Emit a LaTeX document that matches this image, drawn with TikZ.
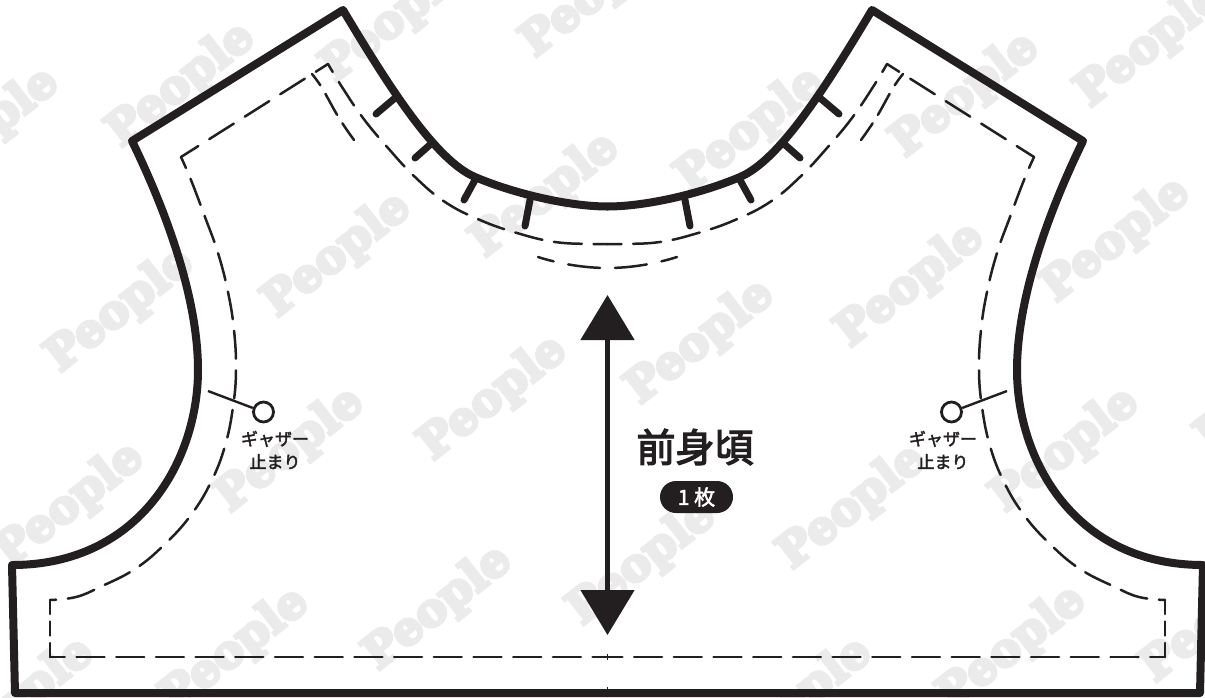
\documentclass[tikz,border=0pt]{standalone}
\usepackage{fontspec}
\newfontfamily\cjkm[FakeBold=2.2]{Noto Sans CJK JP}
\newfontfamily\cjkb[FakeBold=3.2]{Noto Sans CJK JP}
\newfontfamily\markfont[FakeBold=7]{DejaVu Serif Bold}
\usetikzlibrary{arrows.meta}
\definecolor{ink}{HTML}{231F20}
\definecolor{wmark}{HTML}{EBEBEB}
\tikzset{
    cutline/.style={ink,line width=8pt,line join=round,line cap=round},
    seamline/.style={ink,line width=2.5pt,line cap=round},
    notch/.style={ink,line width=7pt,line cap=round},
    stoplabel/.style={ink,font=\cjkm\fontsize{17}{23}\selectfont,align=center,inner sep=0pt},
    stopring/.style={circle,draw=ink,line width=2.8pt,fill=white,minimum size=20pt,inner sep=0pt},
    watermark/.style={wmark,font=\markfont\fontsize{46}{46}\selectfont,rotate=38,inner sep=0pt}
}
\begin{document}
\begin{tikzpicture}[x=1pt,y=-1pt]
    \useasboundingbox (0,0) rectangle (1205,697);
    \clip (0,0) rectangle (1205,697);
    \fill[white] (0,0) rectangle (1205,697);
    \foreach \wx/\wy in {-15/130,181/85,395/20,595/-5,750/130,965/95,1150/45,
        120/310,337/255,545/195,700/342,910/285,1116/240,
        70/505,290/450,493/398,852/507,1065/450,1270/390,
        20/700,235/650,438/608,642/563,798/700,1012/648,1215/620}
        \node[watermark] at (\wx,\wy) {People};
    \foreach \ox/\sx in {0/1,1215/-1}{
        \begin{scope}[shift={(\ox,0)},xscale=\sx]
            \draw[cutline] (607.5,206.5) .. controls (570,206.5) and (515,194) .. (475,177)
                .. controls (435,160) and (388,85) .. (343,10)
                -- (132,141) .. controls (168,215) and (198,300) .. (198,370)
                .. controls (198,460) and (140,565) .. (12,565)
                -- (15,693) -- (607.5,693);
            \foreach \ax/\ay/\bx/\by in {395/98/376/114,432/143/415/158,475/180/464/200,530/200/525/226}
                \draw[notch] (\ax,\ay) -- (\bx,\by);
            \draw[seamline,dash pattern=on 28pt off 11.7pt,dash phase=14pt] plot[smooth,tension=.7] coordinates {(607.5,244) (593,244) (555,242) (517,233) (480,220) (445,202) (415,177) (388,148) (363,118) (342,87) (328,64)};
            \draw[seamline,dash pattern=on 29pt off 13pt,dash phase=14.5pt] (328,64) -- (181,157);
            \draw[seamline,dash pattern=on 28pt off 11.7pt,dash phase=16pt] plot[smooth,tension=.7] coordinates {(181,157) (191,180) (205,217) (218,253) (228,292) (234,330) (236,370) (233,407) (225,446) (211,482) (191,515) (165,544) (135,569) (100,587) (76,597) (50,600)};
            \draw[seamline,dash pattern=on 14pt off 7.5pt] (50,600) -- (50,657);
            \draw[seamline,dash pattern=on 28pt off 11.7pt,dash phase=13.2pt] (50,657) -- (607.5,657);
            \draw[seamline,dash pattern=on 24pt off 10pt,dash phase=10pt] plot[smooth,tension=.7] coordinates {(312,74) (322,88) (339,118) (354,140)};
            \draw[seamline,dash pattern=on 32pt off 15pt,dash phase=39.5pt] (607.5,268) .. controls (585,268) and (560,264) .. (538,257);
            \node[stopring] (stopring) at (263.5,412) {};
            \coordinate (stoptail) at (208,391);
            \draw[ink,line width=2.4pt] (stoptail) -- (stopring);
        \end{scope}
    }
    \draw[ink,line width=.8pt] (607.5,654) -- (607.5,660) (607.5,687) -- (607.5,692);
    \coordinate (arrowtop) at (607.5,295);
    \coordinate (arrowbot) at (607.5,635);
    \draw[ink,line width=5pt,{Triangle[length=45pt,width=53pt]}-{Triangle[length=45pt,width=53pt]}] (arrowtop) -- (arrowbot);
    \node[ink,font=\cjkb\fontsize{39}{39}\selectfont,inner sep=0pt] (title) at (695,447) {前身頃};
    \node[fill=ink,text=white,rounded corners=16pt,minimum width=73pt,minimum height=32pt,inner sep=0pt,font=\cjkm\fontsize{21}{21}\selectfont] (count) at (696.5,497) {1 枚};
    \node[stoplabel] (stoptextl) at (275,450) {ギャザー\\止まり};
    \node[stoplabel] (stoptextr) at (943,450) {ギャザー\\止まり};
\end{tikzpicture}
\end{document}
